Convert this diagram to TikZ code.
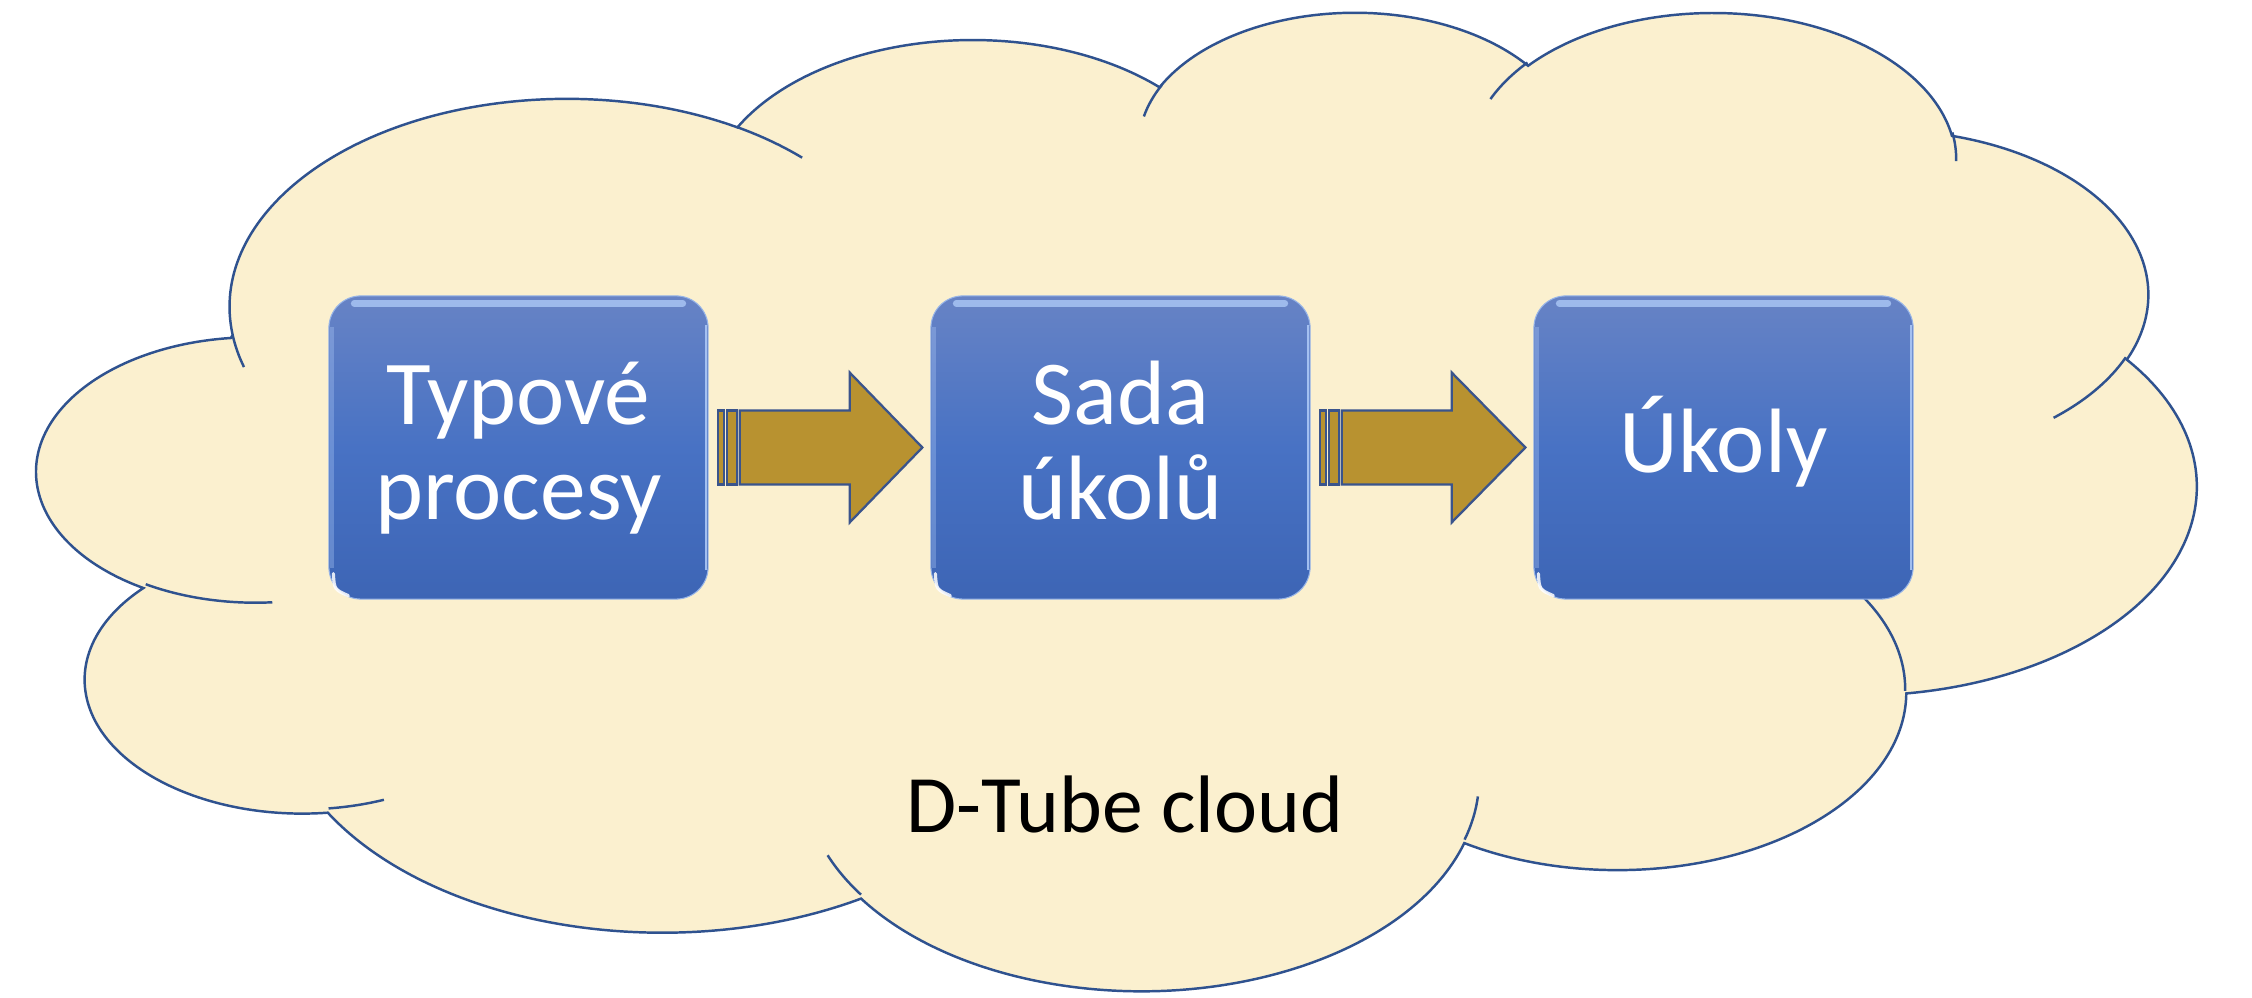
\documentclass[tikz,border=0pt]{standalone}
\usepackage{fontspec}
\setmainfont{Carlito}
\usetikzlibrary{calc}
\definecolor{cloudfill}{RGB}{251,240,207}
\definecolor{cloudline}{RGB}{47,82,143}
\definecolor{arrowfill}{RGB}{184,146,48}
\definecolor{arrowline}{RGB}{58,84,140}
\definecolor{boxtop}{RGB}{103,131,197}
\definecolor{boxmid}{RGB}{72,114,196}
\definecolor{boxbot}{RGB}{61,101,181}
\definecolor{boxedge}{RGB}{150,180,232}
\definecolor{boxhl}{RGB}{172,200,246}
% visual angle -> parametric angle (continuous)
\newcommand\cang[3]{(#3)+atan2(((#1)-(#2))*sin(#3)*cos(#3),(#2)*cos(#3)*cos(#3)+(#1)*sin(#3)*sin(#3))}
\newcommand\defarc[5]{%
  \pgfmathsetmacro\tmpS{\cang{#2}{#3}{#4}}%
  \pgfmathsetmacro\tmpE{\cang{#2}{#3}{(#4)+(#5)}}%
  \expandafter\xdef\csname #1\endcsname{arc[x radius=#2, y radius=#3, start angle=\tmpS, end angle=\tmpE]}}
% outer outline of the cloud
\defarc{cldA}{67.53}{91.90}{-190.4875}{123.7805}%
\defarc{cldB}{53.33}{72.67}{-144.1024}{89.9452}%
\defarc{cldC}{43.65}{59.45}{-145.8079}{99.7230}%
\defarc{cldD}{48.57}{65.95}{-130.9861}{117.2417}%
\defarc{cldE}{53.33}{72.73}{-78.7089}{109.0269}%
\defarc{cldF}{67.75}{92.20}{-46.2673}{130.2690}%
\defarc{cldG}{57.85}{78.67}{0.6250}{114.0333}%
\defarc{cldH}{67.52}{92.15}{22.4516}{115.1726}%
\defarc{cldI}{77.20}{105.43}{66.2426}{75.7110}%
\defarc{cldJ}{43.60}{59.18}{-274.9421}{146.7356}%
\defarc{cldK}{43.45}{59.45}{-246.8285}{152.5189}%
% inner lines of the cloud
\defarc{inA}{43.45}{59.45}{86.7420}{26.4295}%
\defarc{inB}{43.60}{59.18}{73.6105}{11.4475}%
\defarc{inC}{67.52}{92.15}{137.6242}{14.0811}%
\defarc{inD}{67.52}{92.15}{6.4533}{15.9984}%
\defarc{inE}{57.85}{78.67}{-70.2924}{70.9174}%
\defarc{inF}{53.33}{72.73}{30.3180}{27.7515}%
\defarc{inG}{48.57}{65.95}{-13.7443}{14.8589}%
\defarc{inH}{48.57}{65.95}{-149.1815}{18.1954}%
\defarc{inI}{43.65}{59.45}{-163.4943}{17.6864}%
\defarc{inJ}{67.53}{91.90}{-66.7070}{12.3194}%
\defarc{inK}{67.53}{91.90}{157.6544}{11.8582}%
\newcommand\striparrow[2]{%
  \draw[arrowshape] ($(#1.east)+(9,-37)$) rectangle ($(#1.east)+(15,37)$);
  \draw[arrowshape] ($(#1.east)+(18,-37)$) rectangle ($(#1.east)+(28,37)$);
  \draw[arrowshape] ($(#1.east)+(31,-37)$) -- ($(#1.east)+(141,-37)$)
    -- ($(#1.east)+(141,-75)$) -- ($(#2.west)+(-8,0)$)
    -- ($(#1.east)+(141,75)$) -- ($(#1.east)+(141,37)$)
    -- ($(#1.east)+(31,37)$) -- cycle;
}
\begin{document}
\begin{tikzpicture}[x=0.01cm,y=-0.01cm,
  cloudshape/.style={fill=cloudfill,draw=cloudline,line width=0.7pt},
  cloudedge/.style={draw=cloudline,line width=0.7pt},
  arrowshape/.style={fill=arrowfill,draw=arrowline,line width=0.65pt,line join=miter},
  procbox/.style={rectangle,rounded corners=0.32cm,minimum width=3.79cm,minimum height=3.03cm,
    inner sep=0pt,top color=boxtop,bottom color=boxbot,middle color=boxmid,
    draw=boxedge,line width=0.3pt},
  boxtext/.style={text=white,inner sep=0pt,anchor=base,font=\fontsize{26}{26}\selectfont},
  cloudtext/.style={text=black,inner sep=0pt,anchor=base,font=\fontsize{23.2}{23.2}\selectfont},
  hlline/.style={draw=boxhl,line width=2pt,line cap=round,opacity=0.8},
  rightline/.style={draw=boxhl,line width=0.6pt,opacity=0.9},
  leftline/.style={draw=boxhl,line width=1.2pt,opacity=0.35},
  glint/.style={draw=white,line width=0.9pt,line cap=round,opacity=0.85}]
\fill[white] (0,0) rectangle (2252,998);
\useasboundingbox (0,0) rectangle (2252,998);
% cloud
\begin{scope}[xshift=0.378cm,yshift=-0.096cm,x=0.049931cm,y=-0.02263cm]
  \path[cloudshape] (39,143.7) \cldA \cldB \cldC \cldD \cldE \cldF \cldG \cldH \cldI \cldJ \cldK -- cycle;
  \path[cloudedge] (46.93,261.77) \inA (69.28,348.99) \inB (164.78,390.90) \inC
    (288.27,347.51) \inD (341.29,229.54) \inE (417.98,153.54) \inF
    (383.24,54.26) \inG (290.78,39.52) \inH (221.41,47.20) \inI
    (140.00,51.92) \inJ (41.27,157.89) \inK;
\end{scope}
% process boxes
\node[procbox] (b1) at (518.5,447.5) {};
\node[procbox] (b2) at (1120.5,447.5) {};
\node[procbox] (b3) at (1723.5,447.5) {};
\foreach \b in {b1,b2,b3}{
  \draw[hlline] ($(\b.north west)+(26,8)$) -- ($(\b.north east)+(-26,8)$);
  \draw[rightline] ($(\b.north east)+(-3,30)$) -- ($(\b.south east)+(-3,-30)$);
  \draw[leftline] ($(\b.north west)+(4,32)$) -- ($(\b.south west)+(4,-32)$);
  \draw[glint] ($(\b.south west)+(5,-26)$) .. controls ($(\b.south west)+(6,-10)$) .. ($(\b.south west)+(20,-4)$);
}
\node[boxtext] (t1a) at ($(b1.center)+(0,-22.5)$) {Typové};
\node[boxtext] (t1b) at ($(b1.center)+(0,72.5)$) {procesy};
\node[boxtext] (t2a) at ($(b2.center)+(0,-22.5)$) {Sada};
\node[boxtext] (t2b) at ($(b2.center)+(0,72.5)$) {úkolů};
\node[boxtext] (t3) at ($(b3.center)+(0,25)$) {Úkoly};
% striped arrows
\striparrow{b1}{b2}
\striparrow{b2}{b3}
% cloud label
\node[cloudtext] (lbl) at (1125,833) {D-Tube cloud};
\end{tikzpicture}
\end{document}
